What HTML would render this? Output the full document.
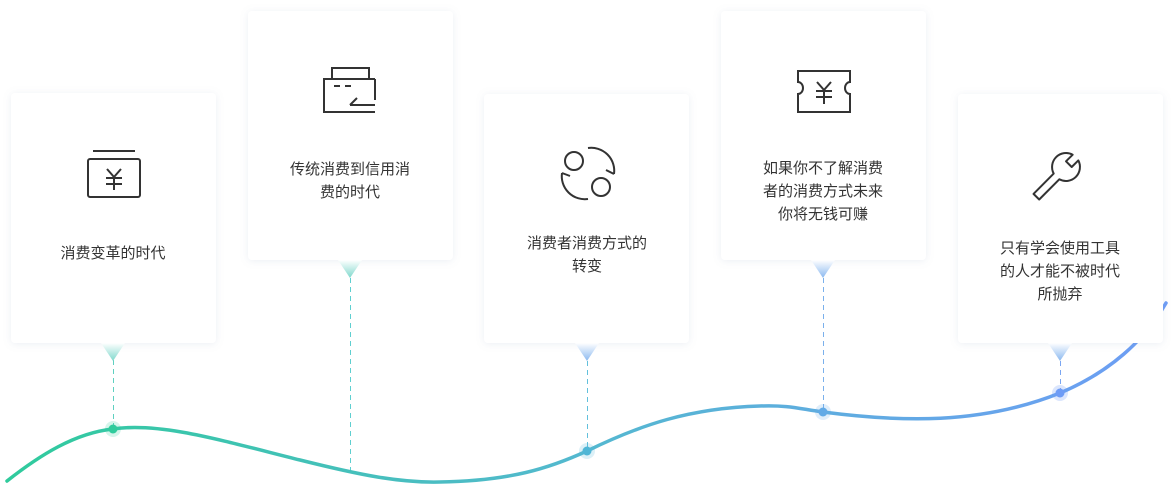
<!DOCTYPE html>
<html><head><meta charset="utf-8"><style>
html,body{margin:0;padding:0;background:#fff;}
svg{display:block;}
text{font-family:"Liberation Sans","Noto Sans CJK SC",sans-serif;font-size:15px;fill:#333;text-anchor:middle;}
</style></head><body>
<svg width="1176" height="504" viewBox="0 0 1176 504" xmlns="http://www.w3.org/2000/svg">
<defs>
<linearGradient id="g" x1="0" y1="0" x2="1176" y2="0" gradientUnits="userSpaceOnUse">
<stop offset="0" stop-color="#2fcb9c"/><stop offset="0.5" stop-color="#54b8d0"/><stop offset="1" stop-color="#6e9cf6"/>
</linearGradient>
<filter id="sh" x="-20%" y="-20%" width="140%" height="140%"><feDropShadow dx="0" dy="1" stdDeviation="4" flood-color="#8090b0" flood-opacity="0.15"/></filter>
<linearGradient id="tg" x1="0" y1="0" x2="0" y2="1"><stop offset="0" stop-color="#fff"/><stop offset="1" stop-color="#7fd8cc"/></linearGradient>
<linearGradient id="tb" x1="0" y1="0" x2="0" y2="1"><stop offset="0" stop-color="#fff"/><stop offset="1" stop-color="#8ab8f0"/></linearGradient>
</defs>
<path d="M7,481 C40,455 75,433 113,429 C160,422 220,440 300,460 C360,475 400,483 440,482 C510,481 550,468 587,451 C640,425 690,408 760,406 C790,405 800,409 823,412 C900,422 980,425 1060,393 C1110,372 1145,340 1166,303" fill="none" stroke="url(#g)" stroke-width="3.5" stroke-linecap="round"/>
<g stroke-width="1" stroke-dasharray="5,4">
<line x1="113.5" y1="360" x2="113.5" y2="428" stroke="#5fd0c0"/>
<line x1="350.5" y1="278" x2="350.5" y2="470" stroke="#5fcfd0"/>
<line x1="587.5" y1="361" x2="587.5" y2="450" stroke="#62c0dc"/>
<line x1="823.5" y1="278" x2="823.5" y2="411" stroke="#7ab0ec"/>
<line x1="1060.5" y1="361" x2="1060.5" y2="392" stroke="#7aa6f2"/>
</g>
<circle cx="113" cy="429" r="8" fill="#2fcb9c" opacity="0.2"/><circle cx="113" cy="429" r="4.5" fill="#2fcb9c"/>
<circle cx="587" cy="451" r="8" fill="#4fb6d6" opacity="0.2"/><circle cx="587" cy="451" r="4.5" fill="#4fb6d6"/>
<circle cx="823" cy="412" r="8" fill="#62aae6" opacity="0.2"/><circle cx="823" cy="412" r="4.5" fill="#62aae6"/>
<circle cx="1060" cy="393" r="8" fill="#6e9cf6" opacity="0.25"/><circle cx="1060" cy="393" r="4.5" fill="#6e9cf6"/>
<g filter="url(#sh)" fill="#fff">
<rect x="11" y="93" width="205" height="250" rx="4"/>
<rect x="248" y="11" width="205" height="249" rx="4"/>
<rect x="484" y="94" width="205" height="249" rx="4"/>
<rect x="721" y="11" width="205" height="249" rx="4"/>
<rect x="958" y="94" width="205" height="249" rx="4"/>
</g>
<polygon points="101,343 125,343 113,361" fill="url(#tg)"/>
<polygon points="338,260 362,260 350,278" fill="url(#tg)"/>
<polygon points="575,343 599,343 587,361" fill="url(#tb)"/>
<polygon points="811,260 835,260 823,278" fill="url(#tb)"/>
<polygon points="1048,343 1072,343 1060,361" fill="url(#tb)"/>
<g fill="none" stroke="#333" stroke-width="2">
<line x1="93" y1="151" x2="135" y2="151"/>
<rect x="88" y="159" width="52" height="38" rx="2"/>
<path d="M107,169 L114,177 L121,169 M114,177 V190 M106,178 H122 M106,184 H122"/>
<rect x="332" y="68" width="37" height="11"/>
<path d="M375,79 H324 V112 H375 M375,79 V100 M334,86 H340 M345,86 H351 M350,105 L357,98 M350,105 H375"/>
<circle cx="574" cy="161" r="9"/><circle cx="601" cy="187" r="9"/>
<path d="M588,148 A23,23 0 0 1 614,174 M614,174 L606,170"/>
<path d="M588,199 A23,23 0 0 1 562,173 M562,173 L570,176"/>
<path d="M798,71 H850 V82 A5,6 0 0 0 850,94 V112 H798 V94 A5,6 0 0 0 798,82 Z"/>
<path d="M817,82 L824,90 L831,82 M824,90 V104 M816,91 H832 M816,97 H832"/>
<path d="M1033.5,193.9 L1053.7,173.6 A14,14 0 0 1 1072.7,154.7 L1066,161.3 L1071.7,167 L1078.3,160.4 A14,14 0 0 1 1059.3,179.3 L1039.2,199.5 Z" stroke-linejoin="round"/>
</g>
<text x="113" y="258">消费变革的时代</text>
<text x="350" y="174">传统消费到信用消</text>
<text x="350" y="197">费的时代</text>
<text x="587" y="248">消费者消费方式的</text>
<text x="587" y="271">转变</text>
<text x="823" y="173">如果你不了解消费</text>
<text x="823" y="196">者的消费方式未来</text>
<text x="823" y="219">你将无钱可赚</text>
<text x="1060" y="253">只有学会使用工具</text>
<text x="1060" y="276">的人才能不被时代</text>
<text x="1060" y="299">所抛弃</text>
</svg>
</body></html>
